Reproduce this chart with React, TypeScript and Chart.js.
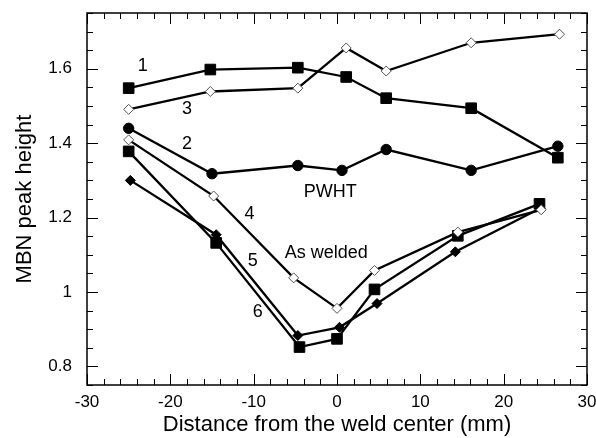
import React, { useEffect, useRef } from "react";
import { Chart, registerables } from "chart.js";

Chart.register(...registerables);

// ---- Data ----
const s1X = [-25, -15.2, -4.7, 1.1, 5.9, 16.1, 26.5];
const s1Y = [1.548, 1.598, 1.603, 1.578, 1.521, 1.494, 1.361];

const s2X = [-25, -15, -4.7, 0.6, 5.9, 16.1, 26.5];
const s2Y = [1.44, 1.318, 1.34, 1.327, 1.383, 1.327, 1.392];

const s3X = [-25, -15.2, -4.7, 1.1, 5.9, 16.1, 26.7];
const s3Y = [1.491, 1.539, 1.548, 1.656, 1.594, 1.67, 1.693];

const s4X = [-25, -14.8, -5.2, 0, 4.5, 14.5, 24.5];
const s4Y = [1.409, 1.258, 1.038, 0.956, 1.058, 1.161, 1.221];

const s5X = [-24.8, -14.5, -4.7, 0.3, 4.8, 14.2, 24.4];
const s5Y = [1.3, 1.154, 0.883, 0.905, 0.969, 1.108, 1.225];

const s6X = [-25, -14.5, -4.5, 0, 4.5, 14.5, 24.3];
const s6Y = [1.378, 1.132, 0.852, 0.874, 1.007, 1.151, 1.237];

const xTickValues = [-30, -20, -10, 0, 10, 20, 30];
const yTickValues = [0.8, 1, 1.2, 1.4, 1.6];

const annotationTexts = ["1", "3", "2", "PWHT", "4", "As welded", "5", "6"];
const annotationX = [-23.3, -18, -18, -0.8, -10.5, -1.3, -10.1, -9.5];
const annotationY = [1.607, 1.493, 1.397, 1.269, 1.21, 1.105, 1.083, 0.947];

const FONT = "'Liberation Sans', Arial, Helvetica, sans-serif";

const framePlugin = {
  id: "frame",
  afterDraw(chart: any) {
    const { ctx, chartArea: a, scales } = chart;
    const xs = scales.x;
    const ys = scales.y;
    ctx.save();
    ctx.strokeStyle = "#000";
    ctx.lineWidth = 1;
    // x ticks (inward, bottom & top)
    for (let v = -30; v <= 30.001; v += 2) {
      const major = Math.abs(v % 10) < 1e-6;
      const len = major ? 11 : 6;
      const px = Math.round(xs.getPixelForValue(v)) + 0.5;
      ctx.beginPath();
      ctx.moveTo(px, a.bottom);
      ctx.lineTo(px, a.bottom - len);
      ctx.moveTo(px, a.top);
      ctx.lineTo(px, a.top + len);
      ctx.stroke();
    }
    // y ticks (inward, left & right)
    for (let i = 0; i <= 20; i++) {
      const v = 0.75 + i * 0.05;
      const major = i % 4 === 1;
      const len = major ? 11 : 6;
      const py = Math.round(ys.getPixelForValue(v)) + 0.5;
      ctx.beginPath();
      ctx.moveTo(a.left, py);
      ctx.lineTo(a.left + len, py);
      ctx.moveTo(a.right, py);
      ctx.lineTo(a.right - len, py);
      ctx.stroke();
    }
    // frame
    ctx.lineWidth = 1.5;
    ctx.strokeRect(a.left, a.top, a.right - a.left, a.bottom - a.top);
    // annotations
    ctx.fillStyle = "#000";
    ctx.font = `18px ${FONT}`;
    ctx.textAlign = "center";
    ctx.textBaseline = "middle";
    annotationTexts.forEach((t, i) => {
      ctx.fillText(t, xs.getPixelForValue(annotationX[i]), ys.getPixelForValue(annotationY[i]));
    });
    ctx.restore();
  },
};

function makeSet(
  label: string,
  xsArr: number[],
  ysArr: number[],
  style: string,
  radius: number,
  fill: string,
  pBorder: string,
  pBorderWidth: number
) {
  return {
    label,
    data: xsArr.map((x, i) => ({ x, y: ysArr[i] })),
    showLine: true,
    borderColor: "#000",
    borderWidth: 2.3,
    tension: 0,
    fill: false,
    pointStyle: style,
    pointRadius: radius,
    pointHoverRadius: radius,
    pointBackgroundColor: fill,
    pointBorderColor: pBorder,
    pointBorderWidth: pBorderWidth,
  };
}

export default function App() {
  const ref = useRef<HTMLCanvasElement>(null);
  useEffect(() => {
    if (!ref.current) return;
    const zeroPad = (s: any) => {
      s.paddingLeft = 0;
      s.paddingRight = 0;
      s.paddingTop = 0;
      s.paddingBottom = 0;
    };
    const chart = new Chart(ref.current, {
      type: "scatter",
      data: {
        datasets: [
          makeSet("1", s1X, s1Y, "rect", 7.5, "#000", "#000", 1),
          makeSet("2", s2X, s2Y, "circle", 5.2, "#000", "#000", 1),
          makeSet("3", s3X, s3Y, "rectRot", 5, "#fff", "#555", 1),
          makeSet("4", s4X, s4Y, "rectRot", 5, "#fff", "#555", 1),
          makeSet("5", s5X, s5Y, "rectRot", 5, "#000", "#000", 1),
          makeSet("6", s6X, s6Y, "rect", 7.5, "#000", "#000", 1),
        ] as any,
      },
      options: {
        animation: false,
        responsive: true,
        maintainAspectRatio: false,
        layout: { padding: { top: 13, right: 9, left: 0, bottom: 0 } },
        plugins: {
          legend: { display: false },
          tooltip: { enabled: false },
        },
        scales: {
          x: {
            type: "linear",
            min: -30,
            max: 30,
            afterBuildTicks: (s: any) => {
              s.ticks = xTickValues.map((v) => ({ value: v }));
            },
            afterFit: (s: any) => {
              s.height = 53;
              zeroPad(s);
            },
            grid: { display: false, drawTicks: false },
            border: { display: false },
            ticks: {
              padding: 7,
              color: "#000",
              font: { family: FONT, size: 17 },
              maxRotation: 0,
              autoSkip: false,
              callback: (v: any) => String(v),
            },
            title: {
              display: true,
              text: "Distance from the weld center (mm)",
              color: "#000",
              font: { family: FONT, size: 22 },
              padding: { top: 0, bottom: 0 },
            },
          },
          y: {
            type: "linear",
            min: 0.75,
            max: 1.75,
            afterBuildTicks: (s: any) => {
              s.ticks = yTickValues.map((v) => ({ value: v }));
            },
            afterFit: (s: any) => {
              s.width = 87;
              zeroPad(s);
            },
            grid: { display: false, drawTicks: false },
            border: { display: false },
            ticks: {
              padding: 15,
              color: "#000",
              font: { family: FONT, size: 17 },
              autoSkip: false,
              callback: (v: any) => String(v),
            },
            title: {
              display: true,
              text: "MBN peak height",
              color: "#000",
              font: { family: FONT, size: 22 },
              padding: { top: 12, bottom: 0 },
            },
          },
        },
      } as any,
      plugins: [framePlugin],
    });
    return () => chart.destroy();
  }, []);
  return (
    <div style={{ position: "absolute", left: 0, top: 0, width: 596, height: 438 }}>
      <canvas ref={ref} />
    </div>
  );
}
